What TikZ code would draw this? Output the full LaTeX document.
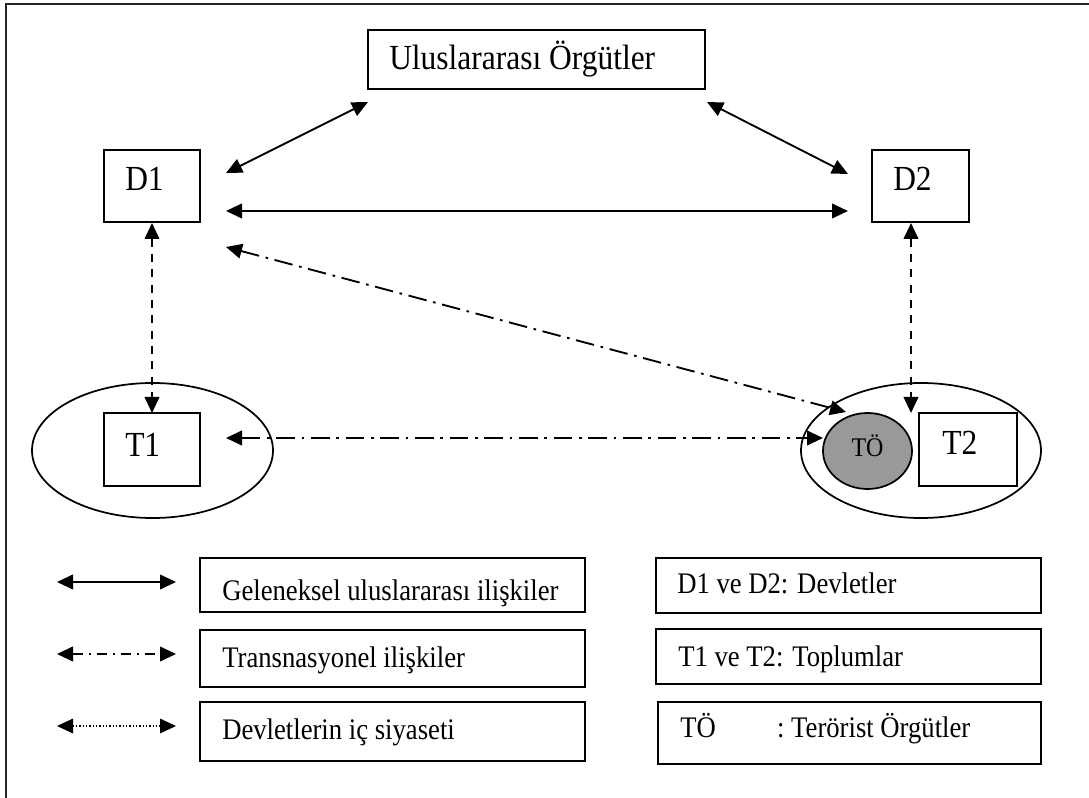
\documentclass[tikz,border=0pt]{standalone}
\usepackage{fontspec}
\setmainfont{Liberation Serif}
\usetikzlibrary{arrows.meta,shapes.geometric}
\definecolor{togray}{HTML}{999999}
\newcommand{\vtxt}[1]{\scalebox{1}[1.12]{#1}}
\begin{document}
\begin{tikzpicture}[x=0.75pt,y=-0.75pt,
  box/.style={draw,line width=1.35pt,inner sep=0pt,fill=white},
  ell/.style={draw,line width=1.3pt,ellipse,inner sep=0pt},
  lbl/.style={anchor=base west,inner sep=0pt,font=\fontsize{23.6}{28}\selectfont},
  leg/.style={anchor=base west,inner sep=0pt,font=\fontsize{20}{24}\selectfont},
  conn/.style={line width=1.4pt,{Triangle[length=12pt,width=11pt]}-{Triangle[length=12pt,width=11pt]}},
  dashconn/.style={conn,dash pattern=on 6pt off 5.5pt},
  transconn/.style={conn,dash pattern=on 14pt off 5pt on 2pt off 5pt},
  legtrans/.style={conn,dash pattern=on 8pt off 4pt on 2pt off 4pt},
  legdot/.style={line width=0.8pt,dash pattern=on 1pt off 1.5pt,{Triangle[length=12pt,width=11pt]}-{Triangle[length=12pt,width=11pt]}},
]
\useasboundingbox (0,0) rectangle (1089,798);
% frame
\draw[line width=1.5pt,draw=black!85] (6,820) -- (6,4) -- (1100,4);

% ellipses (societies)
\node[ell,minimum width=180.75pt,minimum height=101.25pt] (T1e) at (152.5,450.5) {};
\node[ell,minimum width=180pt,minimum height=101.25pt] (T2e) at (921,450.5) {};
\node[ell,fill=togray,minimum width=66.75pt,minimum height=57pt] (TO) at (867.5,451) {};

% boxes
\node[box,minimum width=252.75pt,minimum height=44.25pt] (UO) at (536.5,59.5) {};
\node[box,minimum width=72pt,minimum height=54pt] (D1) at (152,186) {};
\node[box,minimum width=72.75pt,minimum height=54pt] (D2) at (920.5,186) {};
\node[box,minimum width=72pt,minimum height=54.75pt] (T1) at (152,449.5) {};
\node[box,minimum width=73.5pt,minimum height=54.75pt] (T2) at (968,449.5) {};

% labels
\node[lbl] (UOt) at (389,70) {\vtxt{Uluslararası Örgütler}};
\node[lbl] (D1t) at (125,191) {\vtxt{D1}};
\node[lbl] (D2t) at (893,191) {\vtxt{D2}};
\node[lbl] (T1t) at (125,456) {\vtxt{T1}};
\node[lbl] (T2t) at (942,455) {\vtxt{T2}};
\node[anchor=base,inner sep=0pt,font=\fontsize{18}{21}\selectfont] (TOt) at (867.5,456) {\vtxt{TÖ}};

% connector end points
\coordinate (d1uo) at (226,173);
\coordinate (uod1) at (368,102);
\coordinate (uod2) at (707,102);
\coordinate (d2uo) at (848,174);
\coordinate (d1d2) at (226,211);
\coordinate (d2d1) at (848,211);
\coordinate (d1t1) at (152,223);
\coordinate (t1d1) at (152,413);
\coordinate (d2t2) at (911,223);
\coordinate (t2d2) at (911,413);
\coordinate (d1to) at (226,247);
\coordinate (tod1) at (846,412);
\coordinate (t1to) at (226,438);
\coordinate (tot1) at (823,438);

\draw[conn] (d1uo) -- (uod1);
\draw[conn] (uod2) -- (d2uo);
\draw[conn] (d1d2) -- (d2d1);
\draw[dashconn] (d1t1) -- (t1d1);
\draw[dashconn] (d2t2) -- (t2d2);
\draw[transconn] (d1to) -- (tod1);
\draw[transconn] (t1to) -- (tot1);

% legend
\coordinate (l1a) at (57,582);  \coordinate (l1b) at (176,582);
\coordinate (l2a) at (57,654);  \coordinate (l2b) at (176,654);
\coordinate (l3a) at (57,726);  \coordinate (l3b) at (176,726);
\draw[conn] (l1a) -- (l1b);
\draw[legtrans] (l2a) -- (l2b);
\draw[legdot] (l3a) -- (l3b);

\node[box,minimum width=288.75pt,minimum height=40.5pt] (L1) at (392.5,585) {};
\node[box,minimum width=288.75pt,minimum height=42.75pt] (L2) at (392.5,658.5) {};
\node[box,minimum width=288.75pt,minimum height=44.25pt] (L3) at (392.5,731.5) {};
\node[box,minimum width=288.75pt,minimum height=41.25pt] (R1) at (848.5,585.5) {};
\node[box,minimum width=288.75pt,minimum height=41.25pt] (R2) at (848.5,656.5) {};
\node[box,minimum width=287.25pt,minimum height=46.5pt] (R3) at (849.5,733) {};

\node[leg] (L1t) at (222,600) {\vtxt{Geleneksel uluslararası ilişkiler}};
\node[leg] (L2t) at (222,667) {\vtxt{Transnasyonel ilişkiler}};
\node[leg] (L3t) at (222,739) {\vtxt{Devletlerin iç siyaseti}};
\node[leg] (R1t) at (677,593) {\vtxt{D1 ve D2: Devletler}};
\node[leg] (R2t) at (678,666) {\vtxt{T1 ve T2: Toplumlar}};
\node[leg] (R3t) at (680,737) {\vtxt{TÖ\hspace{46pt}: Terörist Örgütler}};
\end{tikzpicture}
\end{document}
